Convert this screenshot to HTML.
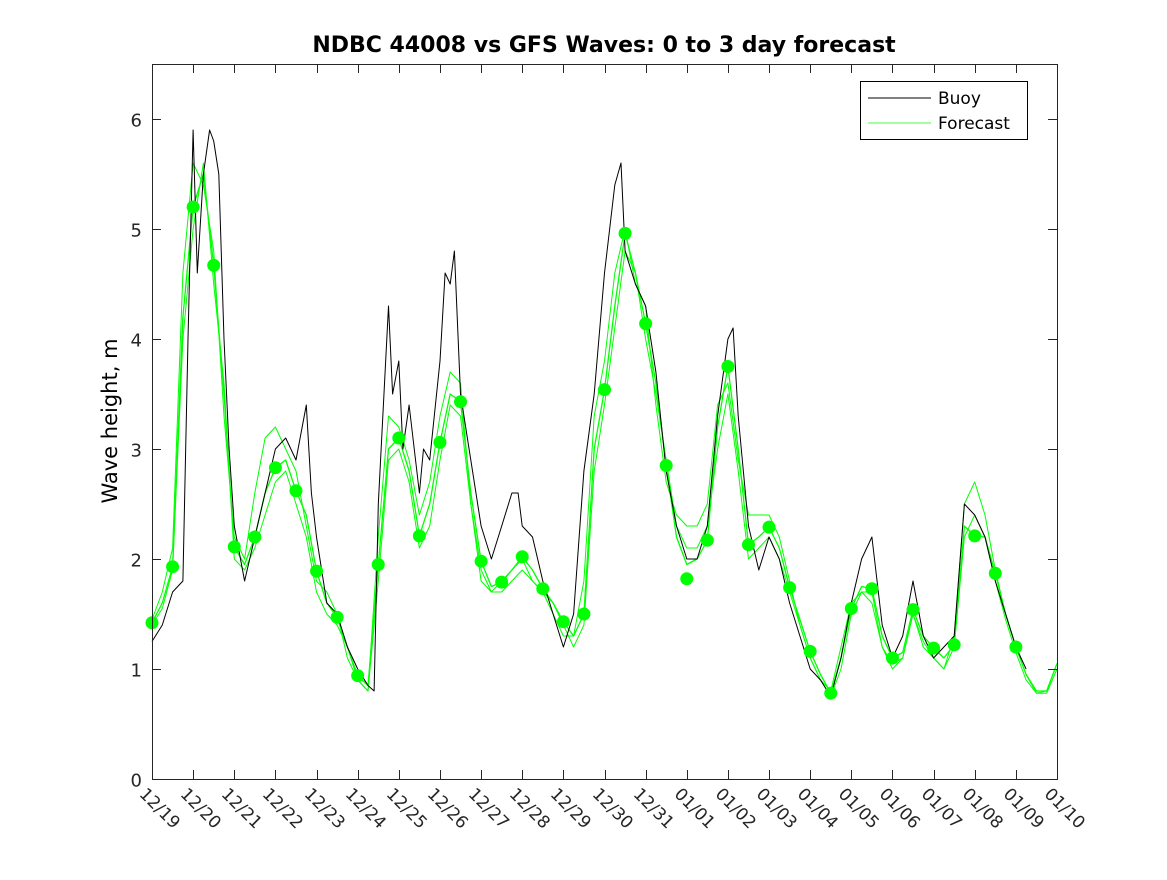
<!DOCTYPE html>
<html><head><meta charset="utf-8"><style>
body{margin:0;background:#fff}
svg text{font-family:"DejaVu Sans","Liberation Sans",sans-serif}
</style></head><body>
<svg id="chart" width="1167" height="875" xmlns="http://www.w3.org/2000/svg">
<rect width="1167" height="875" fill="#fff"/>
<text x="604" y="52" text-anchor="middle" font-size="22" font-weight="bold">NDBC 44008 vs GFS Waves: 0 to 3 day forecast</text>
<text transform="translate(117,421) rotate(-90)" text-anchor="middle" font-size="21">Wave height, m</text>
<g id="plot"></g>
<g id="axes"></g>
<g>
<rect x="860.5" y="81.5" width="167" height="58" fill="#fff" stroke="#000"/>
<line x1="868" y1="98" x2="931" y2="98" stroke="#000"/>
<text x="938" y="104" font-size="17">Buoy</text>
<line x1="868" y1="123" x2="931" y2="123" stroke="#00ff00" stroke-width="0.8"/>
<text x="938" y="129" font-size="17">Forecast</text>
</g>
</svg>
<script>
const dateLabels=["12/19","12/20","12/21","12/22","12/23","12/24","12/25","12/26","12/27","12/28","12/29","12/30","12/31","01/01","01/02","01/03","01/04","01/05","01/06","01/07","01/08","01/09","01/10"];
const yTicks=[0,1,2,3,4,5,6];
const buoyTimes=[0,0.25,0.5,0.75,0.875,1,1.1,1.25,1.4,1.5,1.625,1.75,1.875,2,2.25,2.5,2.75,3,3.25,3.5,3.75,3.875,4,4.25,4.5,4.75,5,5.25,5.4,5.5,5.75,5.85,6,6.1,6.25,6.5,6.6,6.75,7,7.125,7.25,7.35,7.5,7.75,8,8.25,8.5,8.75,8.9,9,9.25,9.5,9.75,10,10.25,10.5,10.75,11,11.25,11.4,11.5,11.75,12,12.25,12.5,12.75,13,13.25,13.5,13.75,14,14.125,14.25,14.5,14.75,15,15.25,15.5,15.75,16,16.25,16.5,16.75,17,17.25,17.5,17.75,18,18.25,18.5,18.75,19,19.25,19.5,19.75,20,20.25,20.5,20.75,21,21.25];
const buoyVals=[1.25,1.4,1.7,1.8,4.0,5.9,4.6,5.5,5.9,5.8,5.5,4.0,3.0,2.3,1.8,2.2,2.6,3.0,3.1,2.9,3.4,2.6,2.2,1.6,1.5,1.2,1.0,0.85,0.8,2.5,4.3,3.5,3.8,3.0,3.4,2.6,3.0,2.9,3.8,4.6,4.5,4.8,3.5,2.9,2.3,2.0,2.3,2.6,2.6,2.3,2.2,1.8,1.5,1.2,1.5,2.8,3.5,4.6,5.4,5.6,4.8,4.5,4.3,3.7,2.8,2.3,2.0,2.0,2.3,3.3,4.0,4.1,3.3,2.3,1.9,2.2,2.0,1.6,1.3,1.0,0.9,0.75,1.1,1.6,2.0,2.2,1.4,1.1,1.3,1.8,1.3,1.1,1.2,1.3,2.5,2.4,2.2,1.8,1.5,1.2,1.0];
const fcA=[1.42,1.6,1.93,4.2,5.2,5.5,4.67,3.5,2.11,1.95,2.2,2.6,2.83,2.9,2.62,2.4,1.89,1.6,1.47,1.2,0.94,0.85,1.95,3.0,3.1,2.8,2.21,2.5,3.06,3.5,3.43,2.6,1.98,1.75,1.79,1.9,2.02,1.9,1.73,1.6,1.43,1.3,1.5,3.0,3.54,4.3,4.96,4.6,4.14,3.6,2.85,2.2,1.95,2.0,2.17,3.2,3.75,3.0,2.13,2.2,2.29,2.1,1.74,1.45,1.16,0.95,0.78,1.1,1.55,1.75,1.73,1.3,1.1,1.15,1.54,1.3,1.19,1.1,1.22,2.3,2.21,2.2,1.87,1.5,1.2,0.95,0.8,0.8,1.05];
const fcB=[1.45,1.7,2.1,4.6,5.6,5.4,4.8,3.3,2.2,2.0,2.6,3.1,3.2,3.0,2.8,2.3,1.8,1.7,1.5,1.1,0.9,0.8,2.2,3.3,3.2,2.9,2.4,2.7,3.3,3.7,3.6,2.5,1.9,1.7,1.7,1.8,1.9,1.8,1.7,1.5,1.3,1.3,1.8,3.3,3.8,4.6,5.0,4.5,4.3,3.4,2.7,2.4,2.3,2.3,2.5,3.4,3.6,2.9,2.4,2.4,2.4,2.2,1.8,1.4,1.1,0.9,0.8,1.2,1.6,1.7,1.6,1.2,1.0,1.1,1.5,1.2,1.1,1.0,1.3,2.5,2.7,2.4,1.9,1.5,1.2,0.95,0.78,0.8,1.05];
const fcC=[1.4,1.55,1.9,4.0,5.0,5.6,4.5,3.6,2.0,1.9,2.1,2.4,2.7,2.8,2.5,2.2,1.7,1.5,1.4,1.2,0.9,0.8,1.8,2.9,3.0,2.7,2.1,2.3,2.9,3.4,3.3,2.5,1.8,1.7,1.8,1.9,2.0,1.8,1.7,1.6,1.4,1.2,1.4,2.8,3.4,4.1,4.8,4.6,4.0,3.5,2.9,2.3,2.1,2.1,2.3,3.0,3.5,2.8,2.0,2.1,2.2,2.0,1.7,1.4,1.1,0.9,0.75,1.0,1.5,1.7,1.7,1.2,1.05,1.1,1.5,1.25,1.1,1.0,1.2,2.2,2.4,2.2,1.8,1.45,1.15,0.9,0.78,0.78,1.0];
const dotVals=[1.42,1.93,5.2,4.67,2.11,2.2,2.83,2.62,1.89,1.47,0.94,1.95,3.1,2.21,3.06,3.43,1.98,1.79,2.02,1.73,1.43,1.5,3.54,4.96,4.14,2.85,1.82,2.17,3.75,2.13,2.29,1.74,1.16,0.78,1.55,1.73,1.1,1.54,1.19,1.22,2.21,1.87,1.2];

const X0=152,X1=1057,Y0=779,Y1=64;
const xs=t=>X0+(X1-X0)*t/22;
const ys=v=>Y0-(Y0-Y1)*v/6.5;
const NS="http://www.w3.org/2000/svg";
const plot=document.getElementById('plot'),axes=document.getElementById('axes');
function mk(tag,attrs,parent){const e=document.createElementNS(NS,tag);for(const k in attrs)e.setAttribute(k,attrs[k]);parent.appendChild(e);return e;}
const frame=mk('rect',{x:X0+.5,y:Y1+.5,width:X1-X0,height:Y0-Y1,fill:'none',stroke:'#262626'},axes);


yTicks.forEach(v=>{const y=Math.round(ys(v))+.5;
 mk('line',{x1:X0,y1:y,x2:X0+9,y2:y,stroke:'#262626'},axes);
 mk('line',{x1:X1-9,y1:y,x2:X1,y2:y,stroke:'#262626'},axes);
 const t=mk('text',{x:X0-10,y:y+7,'text-anchor':'end','font-size':18,fill:'#262626'},axes);t.textContent=v;
 
 
});
dateLabels.forEach((d,i)=>{const x=Math.round(xs(i))+.5;
 mk('line',{x1:x,y1:Y0,x2:x,y2:Y0-9,stroke:'#262626'},axes);
 mk('line',{x1:x,y1:Y1,x2:x,y2:Y1+9,stroke:'#262626'},axes);
 const t=mk('text',{transform:`translate(${x-14},${Y0+16}) rotate(45)`,'font-size':17,fill:'#262626'},axes);t.textContent=d;
 
 
});
function line(times,vals,color,w,name){
 const p=mk('polyline',{points:vals.map((v,i)=>xs(times[i]).toFixed(1)+','+ys(v).toFixed(1)).join(' '),fill:'none',stroke:color,'stroke-width':w,'stroke-linejoin':'round'},plot);
 
 
}
const fT=fcA.map((_,i)=>i*0.25);
line(fT,fcB,'#00ff00',1,'forecast-line-b');
line(fT,fcC,'#00ff00',1,'forecast-line-c');
line(fT,fcA,'#00ff00',1.3,'forecast-line-a');
line(buoyTimes,buoyVals,'#000',1,'buoy-line');
dotVals.forEach((v,i)=>{const c=mk('circle',{cx:xs(i*0.5),cy:ys(v),r:6.5,fill:'#00ff00'},plot);
 
 
});
</script>
</body></html>
